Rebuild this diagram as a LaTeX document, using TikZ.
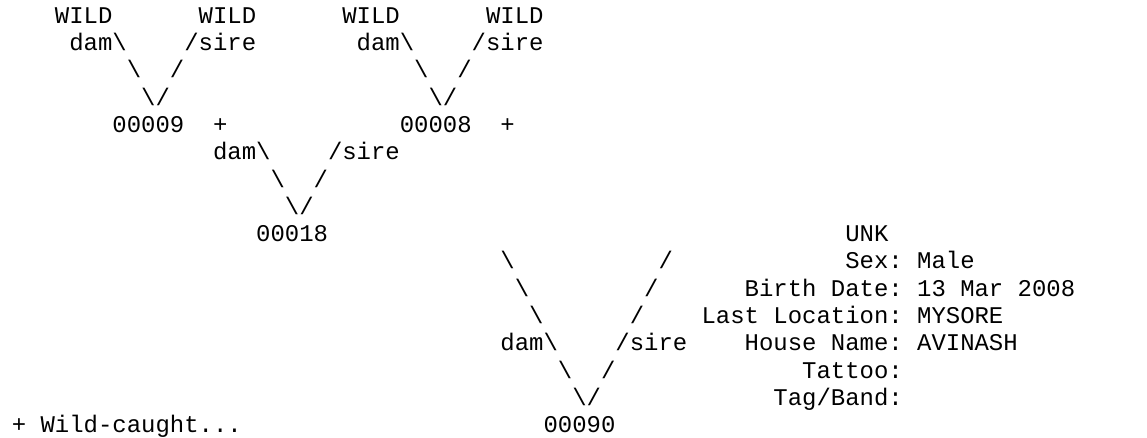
\documentclass[tikz,border=0pt]{standalone}
\usepackage{fontspec}
\setmonofont{Liberation Mono}
\newcommand{\bsl}{\textbackslash}
\begin{document}
\begin{tikzpicture}[
    x=10.7775pt, y=-20.475pt,
    txt/.style={inner sep=0pt, anchor=base west,
      font=\ttfamily\fontsize{17.96pt}{20.475pt}\selectfont},
  ]
  \useasboundingbox (-8.7pt,-3pt) rectangle (851.55pt,-331.5pt);

  % top generation
  \foreach \c/\n in {3/wildA, 13/wildB, 23/wildC, 33/wildD}
    \node[txt] (\n) at (\c,1) {WILD};
  \node[txt] (damA)  at (4,2)  {dam\bsl};
  \node[txt] (sireA) at (12,2) {/sire};
  \node[txt] (damB)  at (24,2) {dam\bsl};
  \node[txt] (sireB) at (32,2) {/sire};
  \foreach \c/\n in {8/lA, 28/lB}
    \node[txt] (\n) at (\c,3) {\bsl};
  \foreach \c/\n in {11/rA, 31/rB}
    \node[txt] (\n) at (\c,3) {/};
  \node[txt] (vA) at (9,4)  {\bsl/};
  \node[txt] (vB) at (29,4) {\bsl/};

  % parents
  \node[txt] (n09)   at (7,5)  {00009};
  \node[txt] (plusA) at (14,5) {+};
  \node[txt] (n08)   at (27,5) {00008};
  \node[txt] (plusB) at (34,5) {+};
  \node[txt] (damC)  at (14,6) {dam\bsl};
  \node[txt] (sireC) at (22,6) {/sire};
  \node[txt] (lC) at (18,7) {\bsl};
  \node[txt] (rC) at (21,7) {/};
  \node[txt] (vC) at (19,8) {\bsl/};
  \node[txt] (n18) at (17,9) {00018};

  % last link
  \foreach \c/\l in {34/10, 35/11, 36/12}
    \node[txt] (lD\l) at (\c,\l) {\bsl};
  \foreach \c/\l in {45/10, 44/11, 43/12}
    \node[txt] (rD\l) at (\c,\l) {/};
  \node[txt] (damD)  at (34,13) {dam\bsl};
  \node[txt] (sireD) at (42,13) {/sire};
  \node[txt] (lD14) at (38,14) {\bsl};
  \node[txt] (rD14) at (41,14) {/};
  \node[txt] (vD) at (39,15) {\bsl/};
  \node[txt] (n90) at (37,16) {00090};
  \node[txt] (note) at (0,16) {+ Wild-caught...};

  % record of the animal
  \node[txt] (unk)    at (58,9)  {UNK};
  \node[txt] (sex)    at (58,10) {Sex: Male};
  \node[txt] (birth)  at (51,11) {Birth Date: 13 Mar 2008};
  \node[txt] (place)  at (48,12) {Last Location: MYSORE};
  \node[txt] (house)  at (51,13) {House Name: AVINASH};
  \node[txt] (tattoo) at (55,14) {Tattoo:};
  \node[txt] (tag)    at (53,15) {Tag/Band:};

\end{tikzpicture}
\end{document}
